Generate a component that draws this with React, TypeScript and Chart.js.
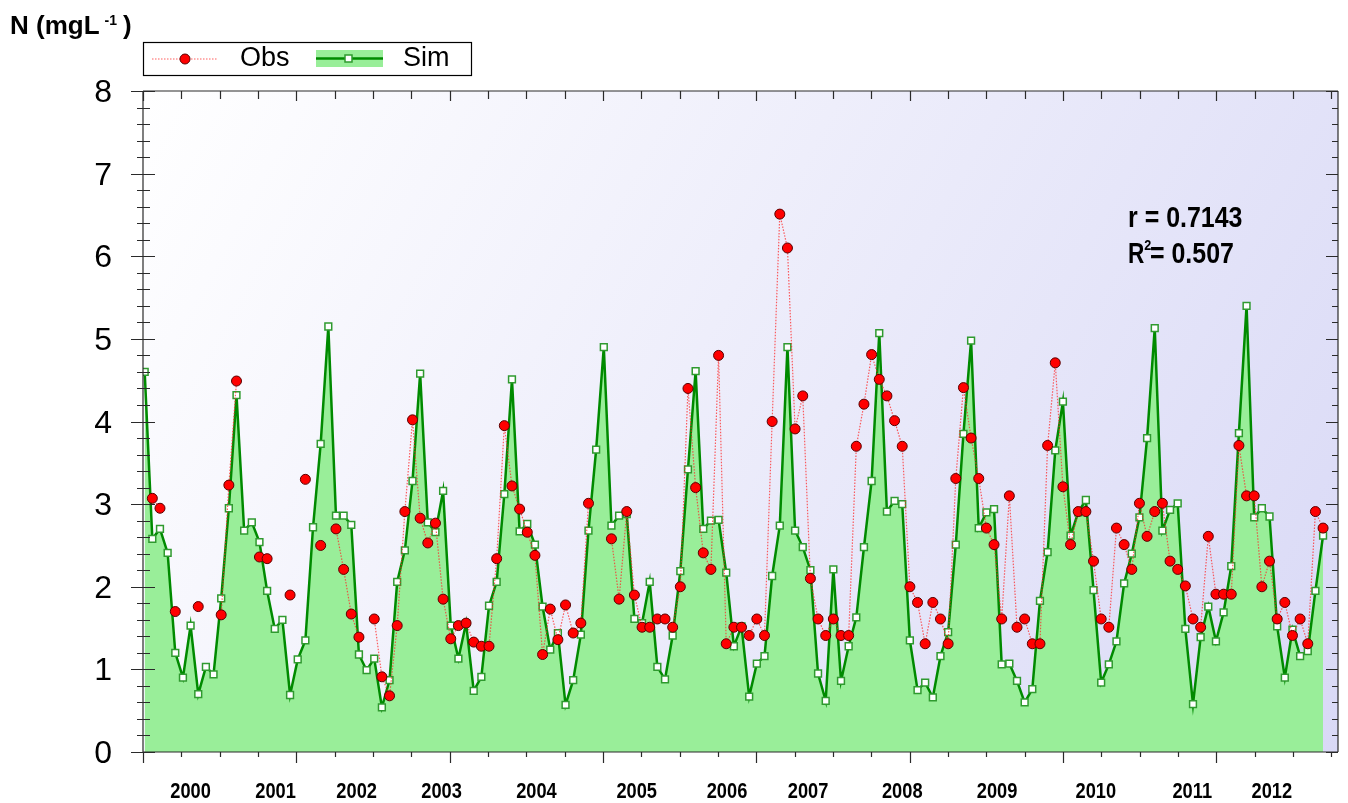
import { useEffect, useRef } from 'react';
import { Chart, registerables } from 'chart.js';

Chart.register(...registerables);

// Monthly simulated N (mg/L), Jan 2000 .. Nov 2012
const simValues: number[] = [
  4.60, 2.58, 2.70, 2.41, 1.20, 0.90, 1.53, 0.70, 1.03, 0.94, 1.86, 2.95,
  4.32, 2.68, 2.78, 2.54, 1.95, 1.49, 1.60, 0.69, 1.12, 1.35, 2.72, 3.73,
  5.15, 2.86, 2.86, 2.75, 1.18, 0.99, 1.13, 0.54, 0.87, 2.06, 2.44, 3.28,
  4.58, 2.78, 2.66, 3.16, 1.53, 1.13, 1.56, 0.74, 0.91, 1.77, 2.06, 3.12,
  4.51, 2.67, 2.76, 2.51, 1.76, 1.24, 1.44, 0.57, 0.87, 1.42, 2.68, 3.66,
  4.90, 2.74, 2.86, 2.88, 1.61, 1.56, 2.06, 1.03, 0.88, 1.41, 2.19, 3.42,
  4.61, 2.70, 2.80, 2.81, 2.17, 1.28, 1.52, 0.67, 1.07, 1.16, 2.13, 2.74,
  4.90, 2.68, 2.48, 2.20, 0.95, 0.62, 2.21, 0.86, 1.28, 1.63, 2.48, 3.28,
  5.07, 2.91, 3.04, 3.00, 1.35, 0.75, 0.84, 0.66, 1.16, 1.45, 2.51, 3.85,
  4.98, 2.71, 2.90, 2.94, 1.06, 1.07, 0.86, 0.60, 0.76, 1.83, 2.42, 3.65,
  4.24, 2.62, 2.90, 3.05, 1.96, 0.84, 1.06, 1.34, 2.04, 2.40, 2.84, 3.80,
  5.13, 2.68, 2.93, 3.01, 1.49, 0.58, 1.39, 1.76, 1.34, 1.69, 2.25, 3.86,
  5.40, 2.84, 2.95, 2.85, 1.52, 0.90, 1.48, 1.16, 1.22, 1.95, 2.62,
];

// Monthly observed N (mg/L); null = no sample
const obsValues: (number | null)[] = [
  null, 3.07, 2.95, null, 1.70, null, null, 1.76, null, null, 1.66, 3.23,
  4.49, null, null, 2.36, 2.34, null, null, 1.90, null, 3.30, null, 2.50,
  null, 2.70, 2.21, 1.67, 1.39, null, 1.61, 0.91, 0.68, 1.53, 2.91, 4.02,
  2.83, 2.53, 2.77, 1.85, 1.37, 1.53, 1.56, 1.33, 1.28, 1.28, 2.34, 3.95,
  3.22, 2.94, 2.66, 2.38, 1.18, 1.73, 1.36, 1.78, 1.44, 1.56, 3.01, null,
  null, 2.58, 1.85, 2.91, 1.90, 1.51, 1.51, 1.61, 1.61, 1.51, 2.00, 4.40,
  3.20, 2.41, 2.21, 4.80, 1.31, 1.51, 1.51, 1.41, 1.61, 1.41, 4.00, 6.51,
  6.10, 3.91, 4.31, 2.10, 1.61, 1.41, 1.61, 1.41, 1.41, 3.70, 4.21, 4.81,
  4.51, 4.31, 4.01, 3.70, 2.00, 1.81, 1.31, 1.81, 1.61, 1.31, 3.31, 4.41,
  3.80, 3.31, 2.71, 2.51, 1.61, 3.10, 1.51, 1.61, 1.31, 1.31, 3.71, 4.71,
  3.21, 2.51, 2.91, 2.91, 2.31, 1.61, 1.51, 2.71, 2.51, 2.21, 3.01, 2.61,
  2.91, 3.01, 2.31, 2.21, 2.01, 1.61, 1.51, 2.61, 1.91, 1.91, 1.91, 3.71,
  3.10, 3.10, 2.00, 2.31, 1.61, 1.81, 1.41, 1.61, 1.31, 2.91, 2.71,
];

// Year labels and where they sit on the month axis
const yearLabels: string[] = ['2000', '2001', '2002', '2003', '2004', '2005', '2006', '2007', '2008', '2009', '2010', '2011', '2012'];
const yearLabelPos: number[] = [6.0, 17.1, 27.7, 38.8, 51.2, 64.3, 76.1, 86.7, 99.0, 111.4, 124.3, 136.9, 147.3];

const yTickLabels: string[] = ['0', '1', '2', '3', '4', '5', '6', '7', '8'];

const X_MIN = -0.22;
const X_MAX = 155.95;
const X_TICK_STEP = 5.01;
const X_TICK_COUNT = 32;

const FONT = "'Liberation Sans', Arial, Helvetica, sans-serif";

function drawScaledText(ctx: CanvasRenderingContext2D, text: string, x: number, y: number, font: string, sx: number, align: CanvasTextAlign = 'left') {
  ctx.save();
  ctx.translate(x, y);
  ctx.scale(sx, 1);
  ctx.font = font;
  ctx.textAlign = align;
  ctx.textBaseline = 'alphabetic';
  ctx.fillText(text, 0, 0);
  const w = ctx.measureText(text).width * sx;
  ctx.restore();
  return w;
}

const decorPlugin = {
  id: 'decor',
  beforeDatasetsDraw(chart: any) {
    const { ctx, chartArea } = chart;
    const { left, top, right, bottom } = chartArea;
    const g = ctx.createLinearGradient(left, top, right, bottom);
    g.addColorStop(0, '#ffffff');
    g.addColorStop(1, '#d9d9f6');
    ctx.save();
    ctx.fillStyle = g;
    ctx.fillRect(left, top, right - left, bottom - top);
    ctx.restore();
  },
  afterDraw(chart: any) {
    const { ctx, chartArea, scales } = chart;
    const { left, top, right, bottom } = chartArea;
    const xs = scales.x;
    const ys = scales.y;
    ctx.save();
    ctx.strokeStyle = '#2a2a2a';
    ctx.lineWidth = 1.2;
    // frame
    ctx.beginPath();
    ctx.moveTo(left, top);
    ctx.lineTo(left, bottom);
    ctx.moveTo(left, bottom);
    ctx.lineTo(right, bottom);
    ctx.moveTo(right, top);
    ctx.lineTo(right, bottom);
    ctx.moveTo(left, top);
    ctx.lineTo(right, top);
    ctx.stroke();

    // y ticks
    ctx.beginPath();
    for (let k = 0; k <= 40; k++) {
      const v = k * 0.2;
      const y = Math.round(ys.getPixelForValue(v)) + 0.5;
      const major = k % 5 === 0;
      ctx.moveTo(left - (major ? 12 : 6), y);
      ctx.lineTo(left + (major ? 12 : 7), y);
      ctx.moveTo(right - (major ? 12 : 6), y);
      ctx.lineTo(right, y);
    }
    // x ticks
    for (let k = 0; k < X_TICK_COUNT; k++) {
      const v = X_MIN + k * X_TICK_STEP;
      const x = Math.round(xs.getPixelForValue(v)) + 0.5;
      const major = k % 4 === 0;
      ctx.moveTo(x, bottom);
      ctx.lineTo(x, bottom + (major ? 11 : 5));
      ctx.moveTo(x, top);
      ctx.lineTo(x, top + (major ? 10 : 8));
    }
    ctx.stroke();

    // y tick labels
    ctx.fillStyle = '#000';
    ctx.font = `32px ${FONT}`;
    ctx.textAlign = 'right';
    ctx.textBaseline = 'alphabetic';
    yTickLabels.forEach((t, i) => {
      const y = ys.getPixelForValue(i);
      ctx.fillText(t, 112, y + 11);
    });

    // year labels
    yearLabels.forEach((t, i) => {
      const x = xs.getPixelForValue(yearLabelPos[i]);
      drawScaledText(ctx, t, x, 798, `bold 22px ${FONT}`, 0.83, 'center');
    });

    // y axis title
    ctx.fillStyle = '#000';
    let w = drawScaledText(ctx, 'N (mgL', 10, 34, `bold 26px ${FONT}`, 1);
    drawScaledText(ctx, '-1', 10 + w + 5, 25, `bold 14px ${FONT}`, 1);
    drawScaledText(ctx, ')', 123, 34, `bold 26px ${FONT}`, 1);

    // statistics
    drawScaledText(ctx, 'r = 0.7143', 1128, 227, `bold 29px ${FONT}`, 0.86);
    w = drawScaledText(ctx, 'R', 1128, 263, `bold 29px ${FONT}`, 0.78);
    drawScaledText(ctx, '2', 1128 + w, 250, `bold 14px ${FONT}`, 0.9);
    drawScaledText(ctx, '= 0.507', 1150, 263, `bold 29px ${FONT}`, 0.86);

    // legend
    ctx.fillStyle = '#fff';
    ctx.fillRect(143.5, 42.5, 328, 33);
    ctx.strokeStyle = '#000';
    ctx.lineWidth = 1.2;
    ctx.strokeRect(143.5, 42.5, 328, 33);

    ctx.strokeStyle = 'rgba(255,40,40,0.75)';
    ctx.lineWidth = 1.2;
    ctx.setLineDash([1.5, 1.5]);
    ctx.beginPath();
    ctx.moveTo(152, 59);
    ctx.lineTo(218, 59);
    ctx.stroke();
    ctx.setLineDash([]);
    ctx.beginPath();
    ctx.arc(185, 59, 5, 0, Math.PI * 2);
    ctx.fillStyle = '#ff0000';
    ctx.fill();
    ctx.strokeStyle = '#5a0000';
    ctx.lineWidth = 1;
    ctx.stroke();
    ctx.fillStyle = '#000';
    drawScaledText(ctx, 'Obs', 240, 66, `27px ${FONT}`, 1);

    ctx.fillStyle = '#99ee99';
    ctx.fillRect(316, 50, 67, 17);
    ctx.strokeStyle = '#008a00';
    ctx.lineWidth = 2.5;
    ctx.beginPath();
    ctx.moveTo(316, 58.5);
    ctx.lineTo(383, 58.5);
    ctx.stroke();
    ctx.fillStyle = '#fff';
    ctx.fillRect(345, 55, 7, 7);
    ctx.strokeStyle = '#2f9a2f';
    ctx.lineWidth = 1.5;
    ctx.strokeRect(345, 55, 7, 7);
    ctx.fillStyle = '#000';
    drawScaledText(ctx, 'Sim', 403, 66, `27px ${FONT}`, 1);

    ctx.restore();
  },
};

export default function App() {
  const ref = useRef<HTMLCanvasElement | null>(null);

  useEffect(() => {
    if (!ref.current) return;
    const simData = simValues.map((v, i) => ({ x: i, y: v }));
    const obsData = obsValues.map((v, i) => ({ x: i, y: v }));
    const chart = new Chart(ref.current, {
      type: 'line',
      data: {
        datasets: [
          {
            label: 'Obs',
            data: obsData as any,
            borderColor: 'rgba(255,40,40,0.75)',
            borderWidth: 1.2,
            borderDash: [1.5, 1.5],
            pointRadius: 5,
            pointStyle: 'circle',
            pointBackgroundColor: '#ff0000',
            pointBorderColor: '#5a0000',
            pointBorderWidth: 1,
            spanGaps: false,
            fill: false,
            tension: 0,
          },
          {
            label: 'Sim',
            data: simData as any,
            borderColor: '#008a00',
            borderWidth: 2.5,
            backgroundColor: '#99ee99',
            fill: 'origin',
            pointStyle: 'rect',
            pointRadius: 4.8,
            pointBackgroundColor: '#ffffff',
            pointBorderColor: '#2f9a2f',
            pointBorderWidth: 1.5,
            tension: 0,
          },
        ],
      },
      options: {
        animation: false,
        responsive: false,
        events: [],
        layout: { padding: { left: 143, top: 91, right: 10, bottom: 51 } },
        plugins: {
          legend: { display: false },
          tooltip: { enabled: false },
        },
        scales: {
          x: { type: 'linear', min: X_MIN, max: X_MAX, display: false },
          y: { type: 'linear', min: 0, max: 8, display: false },
        },
      },
      plugins: [decorPlugin],
    });
    return () => chart.destroy();
  }, []);

  return (
    <div style={{ position: 'fixed', left: 0, top: 0, width: 1348, height: 803, background: '#fff' }}>
      <canvas ref={ref} width={1348} height={803} style={{ display: 'block' }} />
    </div>
  );
}
